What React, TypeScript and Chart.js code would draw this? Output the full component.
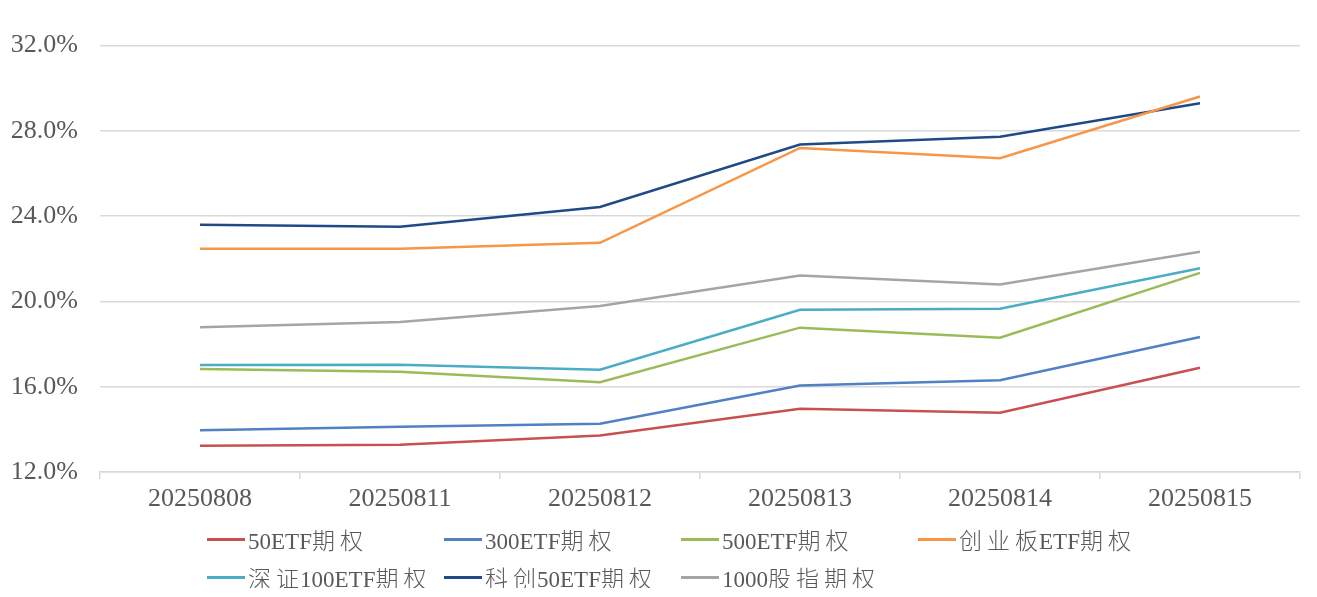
import React, { useEffect, useRef } from 'react';
import { Chart, registerables } from 'chart.js';

Chart.register(...registerables);

const categories = ['20250808', '20250811', '20250812', '20250813', '20250814', '20250815'];

const etf50 = [13.23, 13.28, 13.71, 14.97, 14.78, 16.89];
const etf300 = [13.96, 14.12, 14.26, 16.06, 16.3, 18.33];
const etf500 = [16.83, 16.7, 16.21, 18.77, 18.3, 21.34];
const cybEtf = [22.47, 22.47, 22.75, 27.2, 26.72, 29.61];
const sz100Etf = [17.02, 17.03, 16.8, 19.61, 19.66, 21.56];
const kc50Etf = [23.6, 23.5, 24.43, 27.36, 27.73, 29.3];
const idx1000 = [18.79, 19.04, 19.79, 21.22, 20.8, 22.33];

const seriesNames = ['50ETF期权', '300ETF期权', '500ETF期权', '创业板ETF期权', '深证100ETF期权', '科创50ETF期权', '1000股指期权'];
const seriesData = [etf50, etf300, etf500, cybEtf, sz100Etf, kc50Etf, idx1000];
const seriesColors = ['#c8504f', '#4f81c4', '#9bbb59', '#f79646', '#4bacc6', '#1f4a86', '#a5a5a5'];

const yMin = 12;
const yMax = 32;
const yStep = 4;

const FONT = "'Liberation Serif', 'Times New Roman', 'Noto Sans CJK SC', serif";
const TEXT_COLOR = '#595959';
const GRID_COLOR = '#d9d9d9';

function renderLabel(text: string) {
  const chars = Array.from(text);
  const isCjk = (c: string) => /[\u3400-\u9fff]/.test(c);
  return chars.map((c, i) => {
    if (!isCjk(c)) return <span key={i}>{c}</span>;
    const next = chars[i + 1];
    const spaced = next !== undefined && isCjk(next);
    return (
      <span
        key={i}
        style={{
          fontFamily: "'Noto Sans CJK SC', sans-serif",
          fontWeight: 300,
          marginRight: spaced ? 5 : 1,
        }}
      >
        {c}
      </span>
    );
  });
}

export default function App() {
  const ref = useRef<HTMLCanvasElement>(null);

  useEffect(() => {
    const chart = new Chart(ref.current!, {
      type: 'line',
      data: {
        labels: categories,
        datasets: seriesNames.map((name, i) => ({
          label: name,
          data: seriesData[i],
          borderColor: seriesColors[i],
          backgroundColor: seriesColors[i],
          borderWidth: 2.5,
          pointRadius: 0,
          tension: 0,
          fill: false,
        })),
      },
      options: {
        animation: false,
        responsive: false,
        maintainAspectRatio: false,
        layout: { padding: { top: 36, right: 9, bottom: 66, left: 0 } },
        plugins: {
          legend: { display: false },
          tooltip: { enabled: false },
        },
        scales: {
          x: {
            offset: true,
            grid: {
              offset: true,
              drawOnChartArea: false,
              drawTicks: true,
              tickLength: 7,
              color: GRID_COLOR,
              lineWidth: 1.5,
            },
            border: { display: true, color: GRID_COLOR, width: 1.5 },
            ticks: {
              color: TEXT_COLOR,
              font: { family: FONT, size: 26 },
              padding: 5,
              maxRotation: 0,
              autoSkip: false,
            },
            afterFit: (scale: any) => {
              scale.height = 50;
            },
          },
          y: {
            min: yMin,
            max: yMax,
            grid: {
              drawTicks: false,
              color: GRID_COLOR,
              lineWidth: 1.5,
            },
            border: { display: false },
            ticks: {
              stepSize: yStep,
              color: TEXT_COLOR,
              font: { family: FONT, size: 26 },
              padding: 22,
              callback: (v: any) => Number(v).toFixed(1) + '%',
            },
            afterFit: (scale: any) => {
              scale.width = 92;
            },
          },
        },
      },
    });
    return () => chart.destroy();
  }, []);

  return (
    <div style={{ position: 'relative', width: 1301, height: 580 }}>
      <div style={{ position: 'absolute', left: -6, top: -8, width: 1, height: 597, background: '#cfcfcf' }} />
      <canvas ref={ref} width={1301} height={580} style={{ display: 'block' }} />
      <div
        style={{
          position: 'absolute',
          left: 199,
          top: 512,
          display: 'grid',
          gridTemplateColumns: 'repeat(4, 237px)',
          gridAutoRows: '38px',
          fontFamily: FONT,
          fontSize: 23,
          color: TEXT_COLOR,
        }}
      >
        {seriesNames.map((name, i) => (
          <div key={name} style={{ display: 'flex', alignItems: 'center', whiteSpace: 'nowrap' }}>
            <span style={{ display: 'inline-block', width: 38, height: 3, background: seriesColors[i], marginRight: 3 }} />
            <span>{renderLabel(name)}</span>
          </div>
        ))}
      </div>
    </div>
  );
}
